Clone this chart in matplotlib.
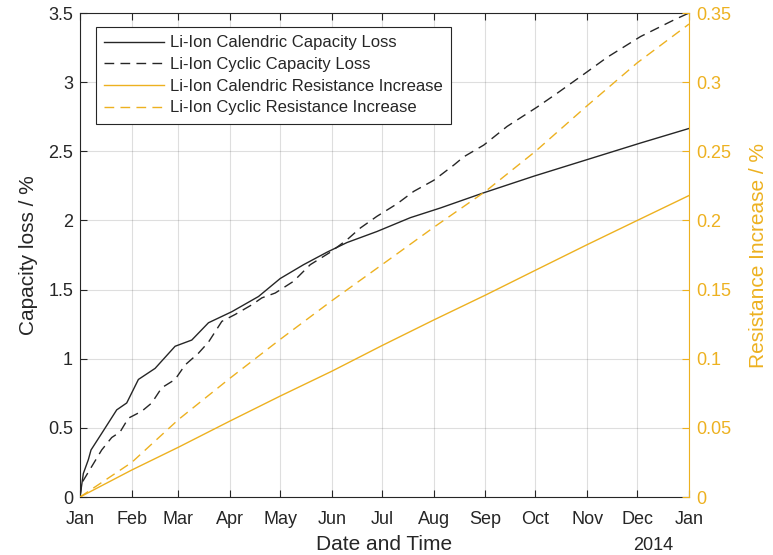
import numpy as np
import matplotlib
matplotlib.use('Agg')
import matplotlib.pyplot as plt
import matplotlib.dates as mdates
import pandas as pd

# MATLAB-like colours
AX_GREY = '#262626'
ORANGE = '#EDB120'

plt.rcParams['font.family'] = ['Liberation Sans', 'DejaVu Sans']
plt.rcParams['font.size'] = 13

START = pd.Timestamp('2013-01-01')

# calendric capacity loss (% ) -- day offset, value
cal_cap_days = [0, 2, 5, 6.6, 13, 22, 28, 35, 45, 57, 67, 77, 91, 107, 120, 134,
                148, 160, 178, 198, 216, 242, 272, 304, 336, 365]
cal_cap_vals = [0, 0.17, 0.27, 0.34, 0.46, 0.63, 0.68, 0.85, 0.93, 1.09, 1.135, 1.26,
                1.34, 1.45, 1.58, 1.68, 1.77, 1.84, 1.92, 2.02, 2.09, 2.20, 2.32,
                2.44, 2.56, 2.665]

# cyclic capacity loss (%)
cyc_cap_days = [0, 1, 7, 13, 19, 24, 29, 37, 43, 49, 57, 63, 71, 77, 85, 93, 103,
                109, 117, 128, 138, 150, 160, 168, 178, 190, 200, 212, 224, 230,
                242, 256, 274, 286, 304, 316, 336, 356, 365]
cyc_cap_vals = [0, 0.10, 0.22, 0.34, 0.43, 0.47, 0.57, 0.62, 0.68, 0.79, 0.85, 0.955,
                1.04, 1.12, 1.27, 1.32, 1.39, 1.44, 1.475, 1.56, 1.68, 1.77, 1.86,
                1.945, 2.03, 2.12, 2.21, 2.29, 2.40, 2.46, 2.545, 2.68, 2.82, 2.92,
                3.075, 3.18, 3.33, 3.45, 3.5]

# resistance increase (%), read at month starts
res_days = [0, 31, 59, 90, 120, 151, 181, 212, 243, 273, 304, 334, 365]
cal_res_vals = [0, 0.0195, 0.036, 0.055, 0.073, 0.091, 0.1095, 0.128, 0.146,
                0.164, 0.1825, 0.200, 0.218]
cyc_res_vals = [0, 0.025, 0.056, 0.086, 0.114, 0.142, 0.168, 0.195, 0.221,
                0.250, 0.283, 0.314, 0.342]


def to_dates(days):
    return [START + pd.Timedelta(days=d) for d in days]


fig = plt.figure(figsize=(7.73, 5.55), dpi=100)
ax = fig.add_axes([80 / 773, 1 - 497 / 555, 609 / 773, 484 / 555])
ax2 = ax.twinx()

dash = (0, (7, 4.5))
l1, = ax.plot(to_dates(cal_cap_days), cal_cap_vals, color=AX_GREY, lw=1.0,
              label='Li-Ion Calendric Capacity Loss')
l2, = ax.plot(to_dates(cyc_cap_days), cyc_cap_vals, color=AX_GREY, lw=1.0,
              linestyle=dash, label='Li-Ion Cyclic Capacity Loss')
l3, = ax2.plot(to_dates(res_days), cal_res_vals, color=ORANGE, lw=1.0,
               label='Li-Ion Calendric Resistance Increase')
l4, = ax2.plot(to_dates(res_days), cyc_res_vals, color=ORANGE, lw=1.0,
               linestyle=dash, label='Li-Ion Cyclic Resistance Increase')

ax.set_xlim(START, pd.Timestamp('2014-01-01'))
ax.set_ylim(0, 3.5)
ax2.set_ylim(0, 0.35)
ax.set_yticks(np.arange(0, 3.51, 0.5))
ax.set_yticklabels(['0', '0.5', '1', '1.5', '2', '2.5', '3', '3.5'])
ax2.set_yticks(np.arange(0, 0.351, 0.05))
ax2.set_yticklabels(['0', '0.05', '0.1', '0.15', '0.2', '0.25', '0.3', '0.35'])

ax.xaxis.set_major_locator(mdates.MonthLocator())
ax.xaxis.set_major_formatter(mdates.DateFormatter('%b'))

ax.grid(True, color='#262626', alpha=0.15, lw=0.8)
ax.set_axisbelow(True)

ax.tick_params(axis='both', direction='in', length=5, width=0.8,
               colors=AX_GREY, labelsize=13, top=True, pad=5)
ax.tick_params(axis='x', pad=10)
ax2.tick_params(axis='y', direction='in', length=5, width=0.8,
                colors=ORANGE, labelsize=13, pad=5)

for side in ['left', 'top', 'bottom']:
    ax.spines[side].set_color(AX_GREY)
    ax.spines[side].set_linewidth(0.8)
    ax2.spines[side].set_visible(False)
ax.spines['right'].set_visible(False)
ax2.spines['right'].set_color(ORANGE)
ax2.spines['right'].set_linewidth(0.8)

ax.set_ylabel('Capacity loss / %', fontsize=15, color=AX_GREY, labelpad=7)
ax2.set_ylabel('Resistance Increase / %', fontsize=15, color=ORANGE, labelpad=13)
ax.set_xlabel('Date and Time', fontsize=15, color=AX_GREY, labelpad=5)
ax.text(0.942, -0.1, '2014', transform=ax.transAxes, ha='center', va='center',
        fontsize=13, color=AX_GREY)

leg = ax2.legend(handles=[l1, l2, l3, l4], loc='upper left',
                 bbox_to_anchor=(0.026, 0.971), fontsize=12, fancybox=False,
                 framealpha=1, edgecolor=AX_GREY, handlelength=3.6,
                 borderpad=0.5, labelspacing=0.4, handletextpad=0.35,
                 borderaxespad=0)
leg.get_frame().set_linewidth(0.8)
for t in leg.get_texts():
    t.set_color(AX_GREY)

fig.savefig('out.png', dpi=100)
